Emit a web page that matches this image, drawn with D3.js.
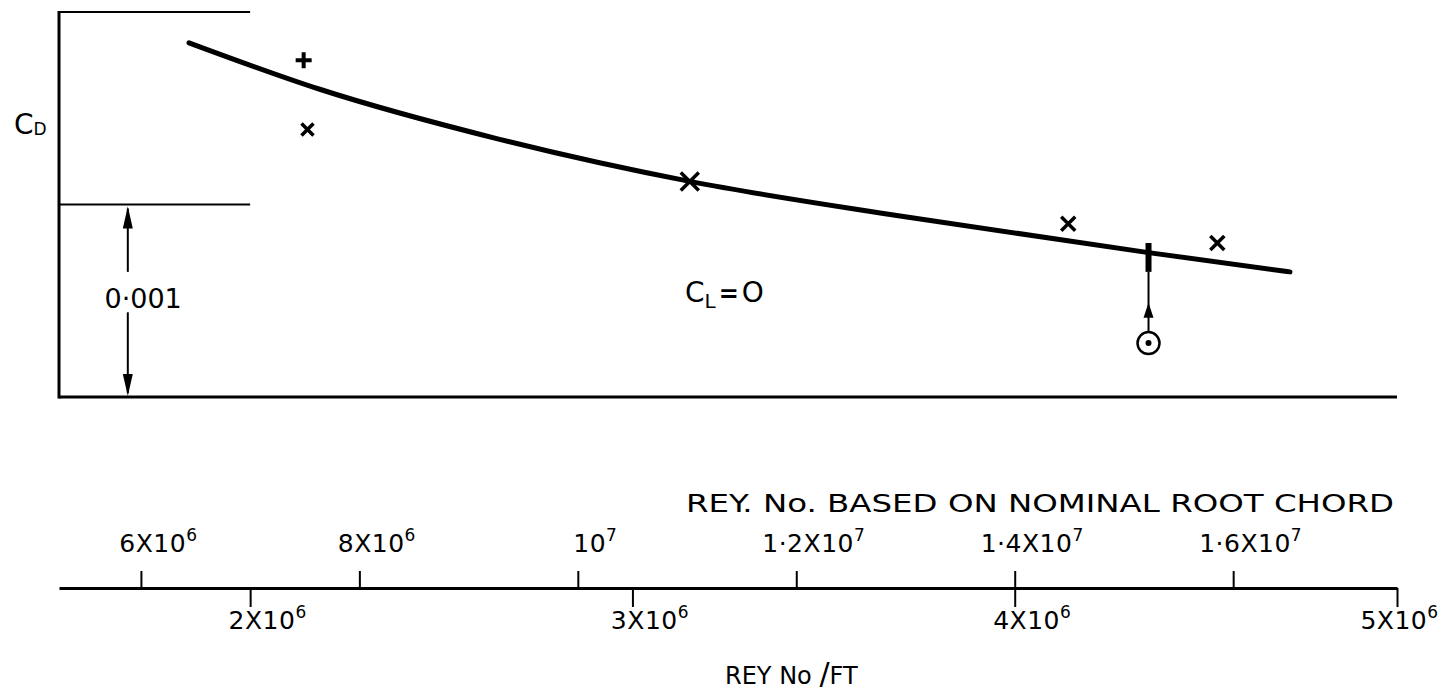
<!DOCTYPE html>
<html>
<head>
<meta charset="utf-8">
<script src="https://cdn.jsdelivr.net/npm/d3@7"></script>
<style>
body { margin: 0; background: #fff; }
svg text { font-family: "DejaVu Sans", sans-serif; fill: #000; }
</style>
</head>
<body>
<svg id="chart" width="1449" height="694"></svg>
<script>
// faired curve, Cd against Reynolds number per foot
var curveRe = [1.84e6, 2.18e6, 2.65e6, 3.15e6, 3.70e6, 4.35e6, 4.72e6];
var curveCd = [0.00684, 0.00660, 0.00634, 0.00612, 0.00594, 0.00575, 0.00565];

// test points
var plusRe = [2.14e6];
var plusCd = [0.00675];
var crossRe = [2.15e6, 3.15e6, 4.14e6, 4.53e6];
var crossCd = [0.00639, 0.00612, 0.00590, 0.00580];
var crossSize = [6, 9, 7, 7];
var circleRe = [4.35e6];
var circleCd = [0.00528];
// correction bar and arrow from the circle point
var barRe = 4.35e6;
var barCd = [0.00565, 0.00580];

// scale bar
var scaleRe = 1.68e6;
var scaleCd = [0.005, 0.006];

var bottomTicks = [2e6, 3e6, 4e6, 5e6];
var bottomTickText = ["2X10", "3X10", "4X10", "5X10"];
var bottomTickSup = ["6", "6", "6", "6"];

var chordRatio = 3.5; // root chord, ft
var topTicks = [6e6, 8e6, 1e7, 1.2e7, 1.4e7, 1.6e7];
var topTickText = ["6X10", "8X10", "10", "1·2X10", "1·4X10", "1·6X10"];
var topTickSup = ["6", "6", "7", "7", "7", "7"];

var svg = d3.select("#chart");

var x = d3.scaleLinear().domain([1.5e6, 5e6]).range([59, 1397]);
var y = d3.scaleLinear().domain([0.005, 0.007]).range([397, 12]);
var xTop = d3.scaleLinear()
  .domain(x.domain().map(function(d) { return d * chordRatio; }))
  .range(x.range());

// frame
svg.append("line")
  .attr("x1", x(1.5e6)).attr("x2", x(1.5e6))
  .attr("y1", y(0.007) - 1).attr("y2", y(0.005) + 1.5)
  .attr("stroke", "#000").attr("stroke-width", 3);
svg.append("line")
  .attr("x1", x(1.5e6)).attr("x2", x(5e6))
  .attr("y1", y(0.005)).attr("y2", y(0.005))
  .attr("stroke", "#000").attr("stroke-width", 3);
svg.selectAll(".ref")
  .data([0.007, 0.006])
  .enter().append("line")
    .attr("class", "ref")
    .attr("x1", x(1.5e6)).attr("x2", x(2.0e6))
    .attr("y1", function(d) { return y(d); })
    .attr("y2", function(d) { return y(d); })
    .attr("stroke", "#000").attr("stroke-width", 2);

// C_D label
var cd = svg.append("text").attr("x", 14).attr("y", 134).attr("font-size", 28);
cd.append("tspan").text("C");
cd.append("tspan").attr("font-size", 17).attr("dy", 1).text("D");

// 0.001 scale arrows
var sx = x(scaleRe);
svg.append("line")
  .attr("x1", sx).attr("x2", sx)
  .attr("y1", y(scaleCd[1]) + 4).attr("y2", y(0.00565))
  .attr("stroke", "#000").attr("stroke-width", 2);
svg.append("line")
  .attr("x1", sx).attr("x2", sx)
  .attr("y1", y(0.00544)).attr("y2", y(scaleCd[0]) - 4)
  .attr("stroke", "#000").attr("stroke-width", 2);
svg.append("path")
  .attr("d", "M" + sx + "," + (y(scaleCd[1]) + 2) + "l-5,22h10z");
svg.append("path")
  .attr("d", "M" + sx + "," + (y(scaleCd[0]) - 1) + "l-5,-22h10z");
svg.append("text")
  .attr("x", x(1.72e6)).attr("y", y(0.00546))
  .attr("text-anchor", "middle").attr("font-size", 27)
  .text("0·001");

// curve
var pts = curveRe.map(function(d, i) { return [d, curveCd[i]]; });
svg.append("path")
  .datum(pts)
  .attr("fill", "none")
  .attr("stroke", "#000")
  .attr("stroke-width", 5)
  .attr("stroke-linecap", "round")
  .attr("d", d3.line()
    .x(function(d) { return x(d[0]); })
    .y(function(d) { return y(d[1]); })
    .curve(d3.curveMonotoneX));

// plus marker
svg.selectAll(".plus")
  .data(plusRe)
  .enter().append("path")
    .attr("class", "plus")
    .attr("transform", function(d, i) { return "translate(" + x(d) + "," + y(plusCd[i]) + ")"; })
    .attr("d", "M-8,0H8M0,-8V8")
    .attr("stroke", "#000").attr("stroke-width", 4);

// cross markers
svg.selectAll(".cross")
  .data(crossRe)
  .enter().append("path")
    .attr("class", "cross")
    .attr("transform", function(d, i) { return "translate(" + x(d) + "," + y(crossCd[i]) + ")"; })
    .attr("d", function(d, i) {
      var s = crossSize[i];
      return "M" + (-s) + "," + (-s) + "L" + s + "," + s + "M" + s + "," + (-s) + "L" + (-s) + "," + s;
    })
    .attr("stroke", "#000").attr("stroke-width", 3.5);

// circle point with arrow up to the corrected value
var bx = x(barRe);
var cy = y(circleCd[0]);
svg.append("line")
  .attr("x1", bx).attr("x2", bx)
  .attr("y1", cy - 11).attr("y2", y(barCd[0]))
  .attr("stroke", "#000").attr("stroke-width", 2);
svg.append("path")
  .attr("d", "M" + bx + "," + y(0.00549) + "l-5,15h10z");
svg.append("line")
  .attr("x1", bx).attr("x2", bx)
  .attr("y1", y(barCd[0])).attr("y2", y(barCd[1]))
  .attr("stroke", "#000").attr("stroke-width", 6);
svg.selectAll(".circ")
  .data(circleRe)
  .enter().append("circle")
    .attr("class", "circ")
    .attr("cx", function(d) { return x(d); })
    .attr("cy", function(d, i) { return y(circleCd[i]); })
    .attr("r", 11)
    .attr("fill", "none").attr("stroke", "#000").attr("stroke-width", 2.5);
svg.append("circle").attr("cx", bx).attr("cy", cy).attr("r", 3);

// C_L = 0
var cl = svg.append("text").attr("x", 685).attr("y", 302).attr("font-size", 28);
cl.append("tspan").text("C");
cl.append("tspan").attr("font-size", 20).attr("dy", 6).text("L");
cl.append("tspan").attr("font-size", 24).attr("dy", -6).attr("dx", 3).attr("font-weight", "bold").text("=");
cl.append("tspan").attr("dx", 3).text("O");

// bottom axis, Rey No per ft
var gb = svg.append("g")
  .attr("transform", "translate(0,588)")
  .call(d3.axisBottom(x).tickValues(bottomTicks).tickSize(19).tickSizeOuter(0));
gb.select(".domain").attr("stroke-width", 3);
gb.selectAll(".tick line").attr("stroke-width", 2);
gb.selectAll(".tick text").each(function(d, i) {
  var t = d3.select(this).text(null)
    .attr("y", 41).attr("dy", null)
    .attr("dx", i == bottomTicks.length - 1 ? 2 : 17)
    .attr("font-size", 25).attr("letter-spacing", 0.5)
    .attr("font-family", null).attr("fill", "#000");
  t.append("tspan").text(bottomTickText[i]);
  t.append("tspan").attr("font-size", 17).attr("dy", -11).text(bottomTickSup[i]);
});

// top axis, Rey No on nominal root chord
var gt = svg.append("g")
  .attr("transform", "translate(0,588)")
  .call(d3.axisTop(xTop).tickValues(topTicks).tickSize(17).tickSizeOuter(0));
gt.select(".domain").remove();
gt.selectAll(".tick line").attr("stroke-width", 2);
gt.selectAll(".tick text").each(function(d, i) {
  var t = d3.select(this).text(null)
    .attr("y", -36).attr("dy", null).attr("dx", 17)
    .attr("font-size", 25).attr("letter-spacing", 0.5)
    .attr("font-family", null).attr("fill", "#000");
  t.append("tspan").text(topTickText[i]);
  t.append("tspan").attr("font-size", 17).attr("dy", -11).text(topTickSup[i]);
});

svg.append("text")
  .attr("x", 686).attr("y", 512)
  .attr("font-size", 24)
  .attr("textLength", 708).attr("lengthAdjust", "spacingAndGlyphs")
  .text("REY. No. BASED ON NOMINAL ROOT CHORD");

var ft = svg.append("text").attr("x", 725).attr("y", 684).attr("font-size", 24);
ft.append("tspan").text("REY No ");
ft.append("tspan").attr("font-size", 30).text("/");
ft.append("tspan").text("FT");
</script>
</body>
</html>
